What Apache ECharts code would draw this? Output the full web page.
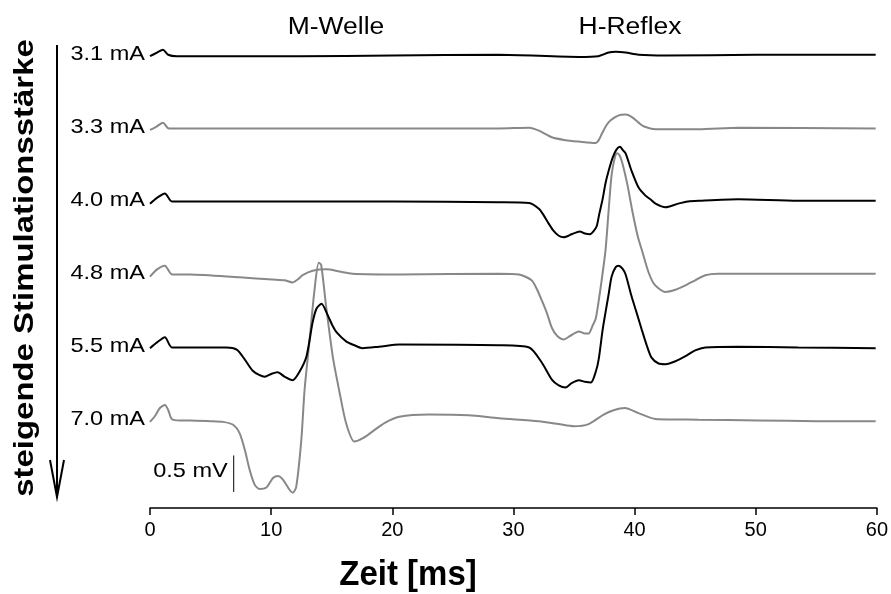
<!DOCTYPE html>
<html><head><meta charset="utf-8">
<script src="https://cdn.jsdelivr.net/npm/echarts@6/dist/echarts.min.js"></script>
<style>html,body{margin:0;padding:0;background:#fff}#c{width:891px;height:594px}</style>
</head><body><div id="c"></div>
<script>
// Stimulus intensities (trace labels), vertical offsets (mV) and trace colours
const stimLabels = ['3.1 mA', '3.3 mA', '4.0 mA', '4.8 mA', '5.5 mA', '7.0 mA'];
const offsets = [6.2, 5.2, 4.2, 3.2, 2.2, 1.2];
const traceColors = ['#000000', '#888888', '#000000', '#888888', '#000000', '#888888'];
const xTicks = [0, 10, 20, 30, 40, 50, 60];
const waveLabels = ['M-Welle', 'H-Reflex'];
const xTitle = 'Zeit [ms]';
const yTitle = 'steigende Stimulationsstärke';
const scaleLabel = '0.5 mV';
const scaleBar = [[6.91, 0.22], [6.91, 0.72]];

// Traces: [time ms, amplitude mV relative to trace baseline]
const t31 = [[0,-0.01],[0.58,0.04],[1.07,0.08],[1.5,0.01],[2.2,-0.01],[6,-0.01],[12.3,-0.01],[20,0],[28.8,0.01],[35.4,-0.02],[37.0,-0.01],[37.86,0.04],[38.44,0.05],[39.26,0.04],[40.33,0.01],[42.55,0],[50,0.01],[59.9,0.01]];
const t33 = [[0,-0.02],[0.58,0.03],[1.07,0.08],[1.56,0],[8,0],[20,0],[28.8,0],[31.3,0.01],[32.1,-0.03],[33.17,-0.12],[34.3,-0.16],[35.4,-0.18],[36.8,-0.2],[37.04,-0.16],[37.28,-0.08],[37.7,0.05],[38.0,0.11],[38.68,0.18],[39.26,0.19],[39.75,0.16],[40.33,0.08],[40.74,0.03],[41.73,-0.01],[43.37,-0.01],[45.27,-0.01],[48.56,0.01],[59.9,0]];
const t40 = [[0,-0.03],[0.58,0.05],[1.23,0.11],[1.81,0],[8,0],[20,0],[28.8,-0.01],[31.3,-0.02],[32.1,-0.10],[32.5,-0.19],[32.9,-0.30],[33.3,-0.40],[33.74,-0.47],[34.16,-0.49],[34.8,-0.45],[35.47,-0.41],[35.9,-0.44],[36.3,-0.45],[36.6,-0.41],[36.87,-0.34],[37.1,-0.16],[37.37,0.04],[37.6,0.25],[37.86,0.42],[38.19,0.6],[38.5,0.71],[38.8,0.75],[39.0,0.71],[39.26,0.66],[39.75,0.42],[40.33,0.19],[40.9,0.08],[41.3,0.03],[41.73,-0.03],[42.55,-0.08],[43.6,-0.03],[44.4,0],[45.27,0.01],[48.56,0.03],[53.5,0.01],[59.9,0.01]];
const t48 = [[0,-0.03],[0.58,0.07],[1.23,0.12],[1.81,0],[3.3,0],[7.4,-0.04],[10.1,-0.07],[11.1,-0.08],[11.77,-0.11],[12.18,-0.07],[12.6,-0.01],[13.42,0.05],[14.57,0.07],[15.64,0.04],[16.7,0.01],[20.6,0],[28.8,0.01],[30.45,0],[31.5,-0.08],[31.9,-0.19],[32.35,-0.36],[32.76,-0.53],[33.17,-0.73],[33.6,-0.84],[34.16,-0.89],[34.7,-0.84],[35.4,-0.78],[35.9,-0.81],[36.2,-0.81],[36.54,-0.70],[36.8,-0.6],[37.04,-0.36],[37.28,-0.08],[37.6,0.33],[37.86,0.88],[38.1,1.36],[38.35,1.59],[38.56,1.66],[38.77,1.63],[39.0,1.52],[39.42,1.22],[39.8,0.88],[40.25,0.53],[40.66,0.30],[41.15,0.03],[41.65,-0.14],[42.55,-0.24],[43.37,-0.21],[44.2,-0.15],[45.0,-0.08],[45.84,-0.01],[46.9,0.01],[53.5,0.01],[59.9,0.01]];
const t55 = [[0,-0.01],[0.58,0.07],[1.23,0.14],[1.81,0],[4.1,0],[6.3,0],[7.16,-0.03],[7.8,-0.16],[8.48,-0.32],[9.05,-0.38],[9.47,-0.4],[10.04,-0.36],[10.53,-0.34],[11.1,-0.4],[11.77,-0.45],[12.35,-0.33],[12.92,-0.12],[13.42,0.34],[13.74,0.53],[14.16,0.6],[14.65,0.45],[15.06,0.30],[15.39,0.21],[16.21,0.08],[16.87,0.03],[17.53,-0.01],[18.9,0.01],[20.6,0.04],[28.8,0.03],[31.3,0],[32.35,-0.21],[33.17,-0.44],[33.74,-0.52],[34.3,-0.55],[34.8,-0.49],[35.4,-0.45],[35.9,-0.47],[36.4,-0.48],[36.8,-0.33],[37.04,-0.16],[37.37,0.25],[37.6,0.48],[37.86,0.73],[38.1,0.97],[38.44,1.1],[38.68,1.12],[39.0,1.08],[39.26,1.0],[39.75,0.7],[40.16,0.48],[40.58,0.25],[41.0,0.03],[41.4,-0.14],[41.98,-0.22],[42.55,-0.23],[43.37,-0.19],[44.2,-0.12],[45.0,-0.04],[45.84,0],[48.56,0.01],[53.5,0],[59.9,-0.01]];
const t70 = [[0,-0.02],[0.41,0.06],[0.82,0.17],[1.23,0.21],[1.51,0.14],[1.79,0.02],[2.47,0],[3.29,0],[4.94,-0.01],[6.03,-0.02],[6.86,-0.06],[7.41,-0.18],[7.82,-0.40],[8.23,-0.68],[8.64,-0.88],[9.05,-0.94],[9.6,-0.92],[10.15,-0.79],[10.56,-0.76],[10.97,-0.81],[11.52,-0.95],[11.79,-0.99],[12.07,-0.91],[12.49,-0.27],[12.76,0.42],[13.17,1.10],[13.58,1.79],[13.93,2.16],[14.13,2.13],[14.54,1.56],[15.09,0.87],[15.64,0.39],[16.19,-0.04],[16.87,-0.29],[17.61,-0.24],[18.38,-0.15],[19.42,-0.03],[20.58,0.05],[23.0,0.08],[26.3,0.07],[28.8,0.03],[32.1,-0.01],[33.74,-0.05],[35.0,-0.08],[36.2,-0.05],[37.45,0.08],[38.27,0.14],[39.18,0.17],[40.33,0.10],[41.73,0.02],[45.27,0.01],[50.2,0],[55.1,-0.01],[59.9,-0.01]];
const traces = [t31, t33, t40, t48, t55, t70];

const FONT = '"Liberation Sans", Arial, sans-serif';
const chart = echarts.init(document.getElementById('c'));

const series = traces.map((tr, i) => ({
  name: stimLabels[i],
  type: 'line',
  data: tr.map(p => [p[0], p[1] + offsets[i]]),
  showSymbol: false,
  smooth: 0.25,
  z: traceColors[i] === '#000000' ? 4 : 3,
  lineStyle: { color: traceColors[i], width: 2 },
  itemStyle: { color: traceColors[i] },
  silent: true
}));
series.push({
  type: 'line',
  data: scaleBar,
  showSymbol: false,
  lineStyle: { color: '#000', width: 1 },
  silent: true,
  z: 5
});

chart.setOption({
  animation: false,
  backgroundColor: '#fff',
  grid: { left: 150, right: 12, top: 19, bottom: 86 },
  xAxis: {
    type: 'value', min: 0, max: 60, interval: 10,
    axisLine: { show: true, lineStyle: { color: '#000', width: 1.5 } },
    axisTick: { show: true, length: 7, lineStyle: { color: '#000', width: 1.5 } },
    axisLabel: { color: '#000', fontSize: 20, fontFamily: FONT, margin: 12,
      formatter: v => xTicks.includes(v) ? String(v) : '' },
    splitLine: { show: false }
  },
  yAxis: { type: 'value', min: 0, max: 6.7, show: false },
  series
});

function txt(text, x, y, opts) {
  return {
    type: 'text', x, y, silent: true, z: 10,
    scaleX: opts.scaleX || 1, scaleY: opts.scaleY || 1, rotation: opts.rotation || 0,
    style: { text, fill: '#000', font: opts.font,
      align: opts.align || 'center', verticalAlign: 'middle',
      textAlign: opts.align || 'center', textVerticalAlign: 'middle' }
  };
}

const g = [];
stimLabels.forEach((lab, i) => {
  const p = chart.convertToPixel({ gridIndex: 0 }, [0, offsets[i]]);
  g.push(txt(lab, p[0] - 5, p[1] - 1, { font: '21px ' + FONT, align: 'right', scaleX: 1.12 }));
});
const sb = chart.convertToPixel({ gridIndex: 0 }, [scaleBar[0][0], (scaleBar[0][1] + scaleBar[1][1]) / 2]);
g.push(txt(scaleLabel, sb[0] - 6, sb[1] - 2, { font: '21px ' + FONT, align: 'right', scaleX: 1.12 }));
g.push(txt(waveLabels[0], 336, 28, { font: '23px ' + FONT, scaleX: 1.15 }));
g.push(txt(waveLabels[1], 630, 28, { font: '23px ' + FONT, scaleX: 1.15 }));
g.push(txt(xTitle, 408, 575, { font: 'bold 30px ' + FONT, scaleX: 1.1, scaleY: 1.15 }));
g.push(txt(yTitle, 26, 268, { font: 'bold 27px ' + FONT, rotation: Math.PI / 2, scaleX: 1.22 }));
// arrow
g.push({ type: 'line', silent: true, shape: { x1: 57, y1: 45, x2: 57, y2: 496 }, style: { stroke: '#000', lineWidth: 2 } });
g.push({ type: 'polyline', silent: true, shape: { points: [[50, 460], [57, 497], [64, 460]] }, style: { stroke: '#000', lineWidth: 2, fill: null } });

chart.setOption({ graphic: { elements: g } });
</script>
</body></html>
